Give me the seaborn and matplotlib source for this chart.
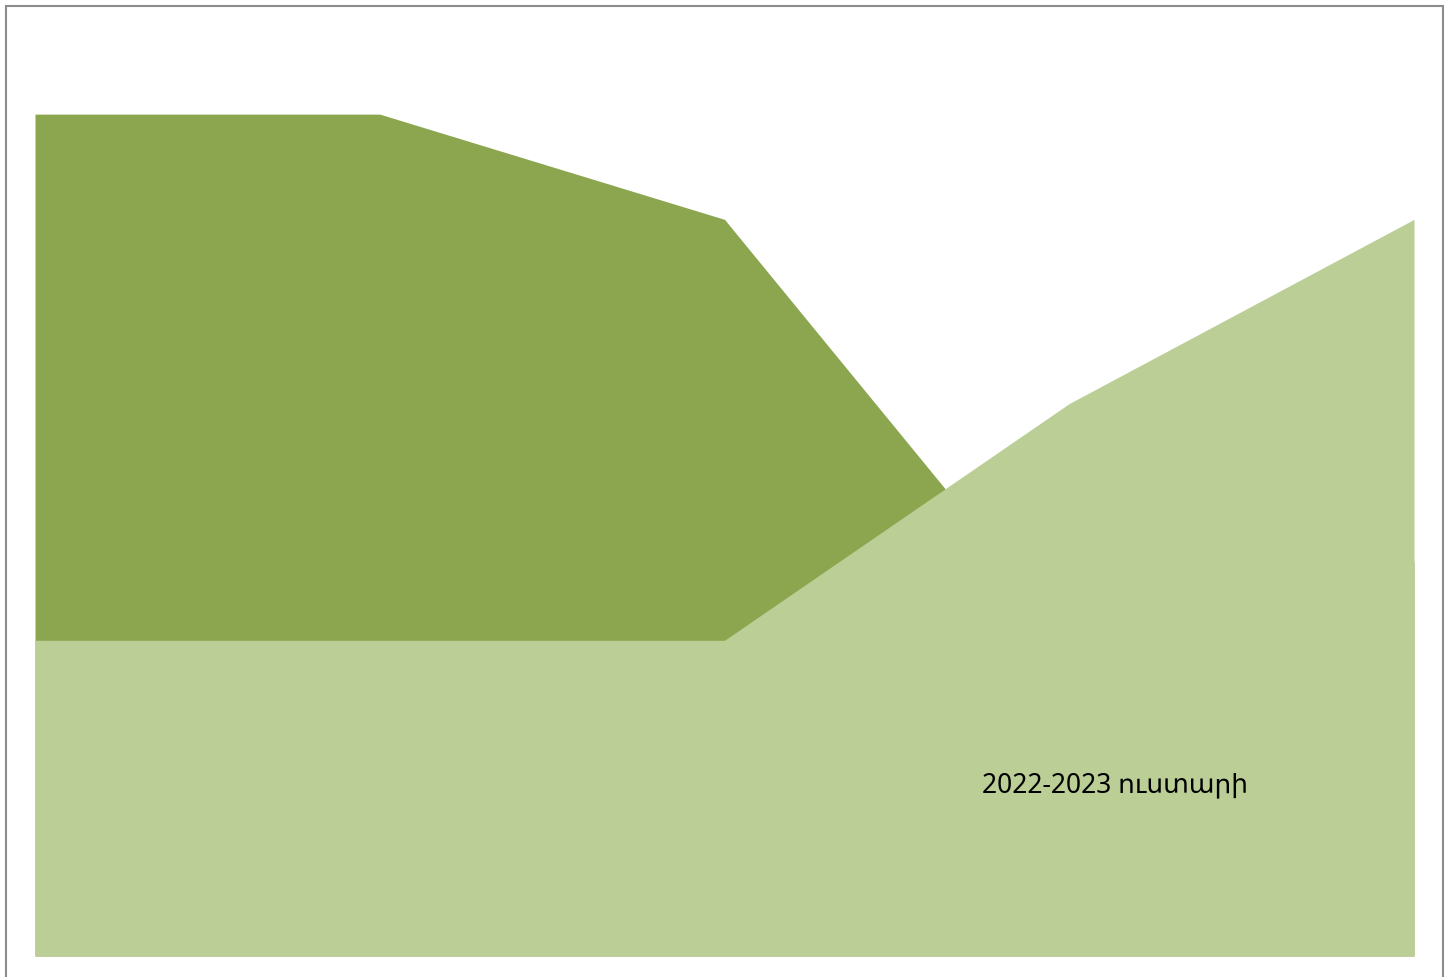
import matplotlib
matplotlib.use("Agg")
import matplotlib.pyplot as plt
import seaborn as sns
import pandas as pd
from matplotlib.patches import Rectangle

categories = [0, 1, 2, 3, 4]
series_back = [8, 8, 7, 3, 3.75]
series_front = [3, 3, 3, 5.25, 7]
label_text = "2022-2023 ուստարի"

sns.set_theme(style="white")
plt.rcParams['font.family'] = ['Noto Sans', 'DejaVu Sans']

W, H = 1447, 977
fig = plt.figure(figsize=(W / 100, H / 100), dpi=100)
ax = fig.add_axes([35 / W, (H - 956) / H, (1414 - 35) / W, 945 / H])

df = pd.DataFrame({"x": categories, "back": series_back, "front": series_front})
sns.lineplot(data=df, x="x", y="back", ax=ax, color="#8BA64F", linewidth=0)
sns.lineplot(data=df, x="x", y="front", ax=ax, color="#BACE96", linewidth=0)
ax.fill_between(df["x"], 0, df["back"], color="#8BA64F", linewidth=0)
ax.fill_between(df["x"], 0, df["front"], color="#BACE96", linewidth=0)

ax.set_xlim(0, 4)
ax.set_ylim(0, 8.98)
ax.axis("off")

fig.text(1115 / W, 1 - 785 / H, label_text, ha="center", va="center",
         fontsize=19, color="black")

fig.patches.append(Rectangle((5.5 / W, -0.02), (1443 - 5.5) / W, (H - 5.5) / H + 0.02,
                             transform=fig.transFigure, fill=False,
                             edgecolor="#8c8c8c", linewidth=1.5, clip_on=False))

fig.savefig("out.png", dpi=100)
